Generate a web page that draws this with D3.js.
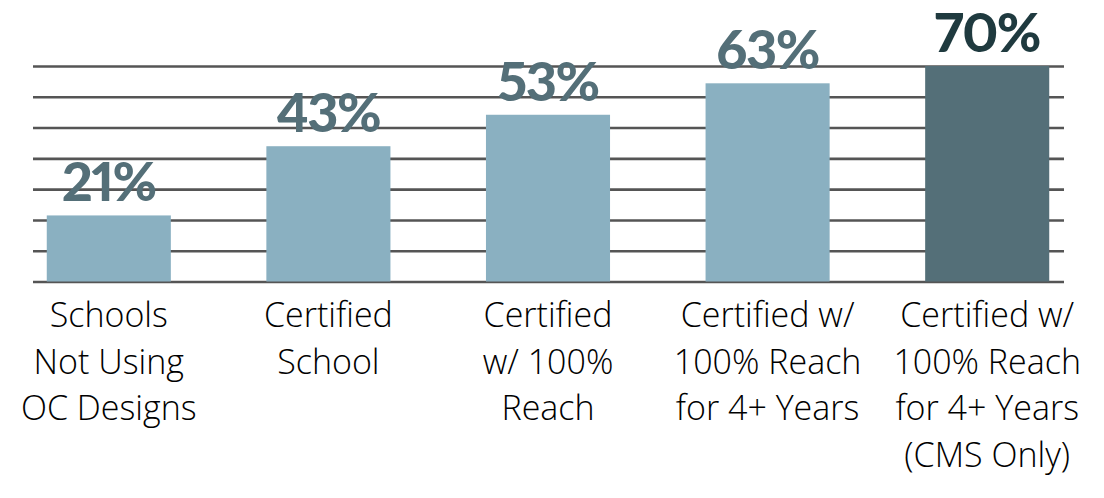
<!DOCTYPE html>
<html>
<head>
<meta charset="utf-8">
<script src="https://cdn.jsdelivr.net/npm/d3@7"></script>
<style>
  body { margin: 0; background: #fff; }
  svg { display: block; }
</style>
</head>
<body>
<svg id="chart"></svg>
<script>
// category labels, split into lines
const categories = [
  ['Schools', 'Not Using', 'OC Designs'],
  ['Certified', 'School'],
  ['Certified', 'w/ 100%', 'Reach'],
  ['Certified w/', '100% Reach', 'for 4+ Years'],
  ['Certified w/', '100% Reach', 'for 4+ Years', '(CMS Only)']
]
const values = [21, 43, 53, 63, 70]
const highlighted = [false, false, false, false, true]

const width = 1104
const height = 498
const plot = { left: 33, right: 1064, top: 66, bottom: 281.5 }
const gridIntervals = 7
// the tallest bar is capped at the top grid line in the original
const axisMax = 68.5

const svg = d3.select('#chart')
  .attr('width', width)
  .attr('height', height)

const x = d3.scaleBand()
  .domain(d3.range(values.length))
  .range([-1, 1097])
  .paddingInner(0.435)
  .paddingOuter(0.2175)

const y = d3.scaleLinear()
  .domain([0, axisMax])
  .range([plot.bottom, plot.top])
  .clamp(true)

// horizontal grid lines, evenly spaced, no labels
const gridTicks = d3.range(gridIntervals + 1).map(i => axisMax * i / gridIntervals)
const grid = svg.append('g')
  .attr('transform', `translate(${plot.left},0)`)
  .call(d3.axisLeft(y).tickValues(gridTicks).tickSize(-(plot.right - plot.left)).tickFormat(''))
grid.select('.domain').remove()
grid.selectAll('.tick line')
  .attr('stroke', '#555555')
  .attr('stroke-width', 2.6)

// bars
svg.selectAll('rect.bar').data(values).enter().append('rect')
  .attr('class', 'bar')
  .attr('x', (d, i) => x(i))
  .attr('y', d => y(d))
  .attr('width', x.bandwidth())
  .attr('height', d => y(0) - y(d))
  .attr('fill', (d, i) => highlighted[i] ? '#546f78' : '#8ab0c1')

// value labels
svg.selectAll('text.value').data(values).enter().append('text')
  .attr('class', 'value')
  .attr('x', (d, i) => x(i) + x.bandwidth() / 2)
  .attr('y', d => y(d) - 14)
  .attr('text-anchor', 'middle')
  .attr('font-family', 'Lato, sans-serif')
  .attr('font-weight', 900)
  .attr('font-size', 54)
  .attr('letter-spacing', -1.5)
  .style('font-variant-numeric', 'proportional-nums')
  .style('font-feature-settings', '"pnum" 1')
  .attr('fill', (d, i) => highlighted[i] ? '#1f3a3f' : '#546f78')
  .text(d => d + '%')

// category labels
const xAxis = svg.append('g')
  .attr('transform', `translate(0,${plot.bottom})`)
  .call(d3.axisBottom(x).tickSize(0).tickFormat(''))
xAxis.select('.domain').remove()

svg.selectAll('text.cat').data(categories).enter().append('text')
  .attr('class', 'cat')
  .attr('x', (d, i) => x(i) + x.bandwidth() / 2)
  .attr('y', 327)
  .attr('text-anchor', 'middle')
  .attr('font-family', '"Open Sans", sans-serif')
  .attr('font-weight', 300)
  .attr('font-size', 34)
  .attr('fill', '#000000')
  .each(function (lines) {
    d3.select(this).selectAll('tspan').data(lines).enter().append('tspan')
      .attr('x', d3.select(this).attr('x'))
      .attr('dy', (d, j) => j === 0 ? 0 : 46.5)
      .text(d => d)
  })
</script>
</body>
</html>
